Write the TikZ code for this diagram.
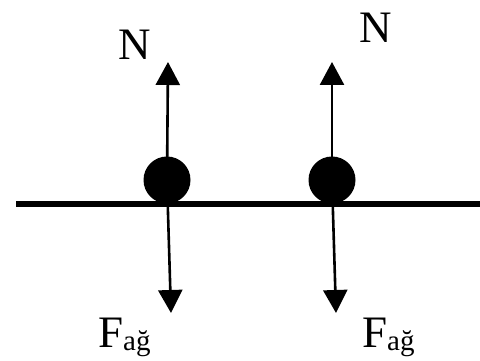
\documentclass[tikz,border=0pt]{standalone}
\usepackage{fontspec}
\setmainfont{Liberation Serif}
\usetikzlibrary{arrows.meta}
\begin{document}
\begin{tikzpicture}[x=1pt,y=1pt,
  ball/.style={circle,fill=black,inner sep=0pt,minimum size=47pt},
  force/.style={line width=2.6pt,-{Triangle[length=23pt,width=24pt]}},
  lbl/.style={inner sep=0pt,font=\fontsize{45}{45}\selectfont},
  sub/.style={}]
\useasboundingbox (0,0) rectangle (480,361);
% ground
\coordinate (g1) at (16,157);
\coordinate (g2) at (480,157);
\draw[line width=6pt] (g1) -- (g2);
% arrow ends
\coordinate (n1) at (168,299);
\coordinate (n2) at (332,299);
\coordinate (f1) at (171,48);
\coordinate (f2) at (336,48);
\node[ball] (b1) at (167,181) {};
\node[ball] (b2) at (332,181) {};
\draw[force] (b1.center) -- (n1);
\draw[force] (b2.center) -- (n2);
\draw[force] (b1.center) -- (f1);
\draw[force] (b2.center) -- (f2);
% labels
\node[lbl,anchor=base] (N1) at (135,301) {N};
\node[lbl,anchor=base] (N2) at (376,318) {N};
\node[lbl,anchor=base west] (F1) at (98,13) {F\raisebox{-3pt}{\fontsize{29}{29}\selectfont ağ}};
\node[lbl,anchor=base west] (F2) at (362,13) {F\raisebox{-3pt}{\fontsize{29}{29}\selectfont ağ}};
\end{tikzpicture}
\end{document}
